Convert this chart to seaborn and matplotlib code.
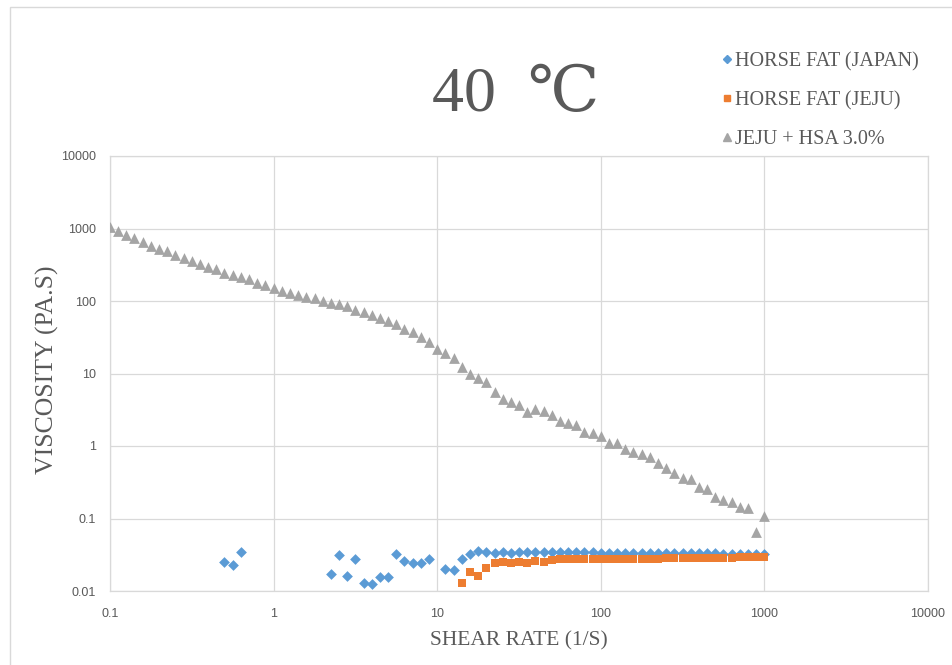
import numpy as np
import pandas as pd
import seaborn as sns
import matplotlib.pyplot as plt
from matplotlib.lines import Line2D
from matplotlib.patches import Rectangle
from matplotlib.ticker import FuncFormatter, NullLocator

# shear rate sweep (1/s), 20 points per decade
shear_rate = [0.1, 0.112, 0.126, 0.141, 0.158, 0.178, 0.2, 0.224, 0.251, 0.282,
              0.316, 0.355, 0.398, 0.447, 0.501, 0.562, 0.631, 0.708, 0.794, 0.891,
              1, 1.12, 1.26, 1.41, 1.58, 1.78, 2, 2.24, 2.51, 2.82,
              3.16, 3.55, 3.98, 4.47, 5.01, 5.62, 6.31, 7.08, 7.94, 8.91,
              10, 11.2, 12.6, 14.1, 15.8, 17.8, 20, 22.4, 25.1, 28.2,
              31.6, 35.5, 39.8, 44.7, 50.1, 56.2, 63.1, 70.8, 79.4, 89.1,
              100, 112, 126, 141, 158, 178, 200, 224, 251, 282,
              316, 355, 398, 447, 501, 562, 631, 708, 794, 891, 1000]

nan = np.nan
# HORSE FAT (JAPAN)
japan = [nan] * 14 + [0.0254, 0.0229, 0.0348] + [nan] * 10 + [
    0.0170, 0.0314, 0.0161, 0.0274, 0.0128, 0.0124, 0.0157, 0.0155, 0.0321, 0.0262,
    0.0241, 0.0241, 0.0276, nan, 0.0201, 0.0195, 0.0274, 0.0321, 0.0356, 0.0341,
    0.0331, 0.0345, 0.0335, 0.0340, 0.0345, 0.0340, 0.0348, 0.0340, 0.0345, 0.0340,
    0.0342, 0.0340, 0.0340, 0.0338, 0.0336, 0.0336, 0.0335, 0.0335, 0.0334, 0.0334,
    0.0333, 0.0332, 0.0332, 0.0331, 0.0331, 0.0330, 0.0330, 0.0330, 0.0329, 0.0329,
    0.0328, 0.0328, 0.0327, 0.0327]

# HORSE FAT (JEJU)
jeju = [nan] * 43 + [
    0.0128, 0.0185, 0.0163, 0.0206, 0.0241, 0.0254, 0.0241, 0.0248, 0.0241, 0.0262,
    0.0254, 0.0268, 0.0274, 0.0272, 0.0274, 0.0273, 0.0275, 0.0274, 0.0275, 0.0274,
    0.0276, 0.0275, 0.0276, 0.0275, 0.0276, 0.0286, 0.0287, 0.0287, 0.0288, 0.0288,
    0.0288, 0.0289, 0.0289, 0.0289, 0.0290, 0.0290, 0.0290, 0.0290]

# JEJU + HSA 3.0%
hsa = [1040, 924, 813, 733, 651, 579, 521, 489, 431, 388,
       360, 321, 297, 279, 246, 226, 214, 199, 179, 166,
       153, 139, 130, 122, 115, 109, 101, 95, 91, 84,
       75, 70, 65, 58, 53, 48, 41, 37, 32, 27,
       21.6, 19, 16.2, 12.4, 9.8, 8.6, 7.6, 5.5, 4.5, 4.0,
       3.7, 2.9, 3.2, 3.0, 2.65, 2.2, 2.06, 1.92, 1.56, 1.50,
       1.37, 1.09, 1.09, 0.91, 0.82, 0.78, 0.70, 0.59, 0.50, 0.43,
       0.36, 0.35, 0.27, 0.255, 0.20, 0.18, 0.17, 0.146, 0.138, 0.066, 0.108]

series_names = ["HORSE FAT (JAPAN)", "HORSE FAT (JEJU)", "JEJU + HSA 3.0%"]
series_values = [japan, jeju, hsa]
colors = ["#5B9BD5", "#ED7D31", "#A5A5A5"]
markers = ["D", "s", "^"]
sizes = [30, 34, 60]

sns.set_theme(style="white")
plt.rcParams['font.family'] = ['Liberation Sans', 'DejaVu Sans']
serif = ['Liberation Serif', 'DejaVu Serif', 'DejaVu Sans']
text_color = "#595959"
grid_color = "#D9D9D9"

fig = plt.figure(figsize=(9.52, 6.65), dpi=100)
ax = fig.add_axes([110 / 952, 1 - 591 / 665, 818 / 952, 435 / 665])

for name, vals, c, m, s in zip(series_names, series_values, colors, markers, sizes):
    df = pd.DataFrame({"shear": shear_rate, "visc": vals}).dropna()
    sns.scatterplot(data=df, x="shear", y="visc", ax=ax, color=c, marker=m,
                    s=s, linewidth=0, zorder=3)

ax.set_xscale("log")
ax.set_yscale("log")
ax.set_xlim(0.1, 10000)
ax.set_ylim(0.01, 10000)
ax.set_xticks([0.1, 1, 10, 100, 1000, 10000])
ax.set_yticks([0.01, 0.1, 1, 10, 100, 1000, 10000])
ax.xaxis.set_minor_locator(NullLocator())
ax.yaxis.set_minor_locator(NullLocator())
fmt = FuncFormatter(lambda v, p: "%g" % v)
ax.xaxis.set_major_formatter(fmt)
ax.yaxis.set_major_formatter(fmt)
ax.tick_params(axis="both", length=0, labelsize=9, labelcolor=text_color)
ax.tick_params(axis="x", pad=12)
ax.tick_params(axis="y", pad=10)
ax.grid(True, color=grid_color, linewidth=0.9)
for sp in ax.spines.values():
    sp.set_color(grid_color)
    sp.set_linewidth(0.9)

ax.set_xlabel("SHEAR RATE (1/S)", family=serif, fontsize=15.5, color=text_color)
ax.set_ylabel("VISCOSITY (PA.S)", family=serif, fontsize=18.5, color=text_color)
ax.xaxis.set_label_coords(0.5, -0.093)
ax.yaxis.set_label_coords(-0.062, 0.508)

fig.text(516 / 952, 1 - 111 / 665, "40  \u2103", family=serif, fontsize=46,
         color=text_color, ha="center", va="baseline")

handles = [Line2D([], [], linestyle="none", marker=m, color=c, markersize=ms)
           for m, c, ms in zip(markers, colors, [4.5, 5, 5.5])]
leg = fig.legend(handles, series_names, loc="upper left",
                 bbox_to_anchor=(712 / 952, 1 - 42 / 665), frameon=False,
                 handlelength=0.5, handletextpad=0.15, labelspacing=0.98,
                 borderpad=0, prop={"family": serif, "size": 14.5})
for t in leg.get_texts():
    t.set_color(text_color)

fig.patches.append(Rectangle((9.5 / 952, -0.1), 1.2, 1.1 - 7.5 / 665,
                             transform=fig.transFigure, fill=False,
                             edgecolor=grid_color, linewidth=1))

fig.savefig("out.png", dpi=100)
